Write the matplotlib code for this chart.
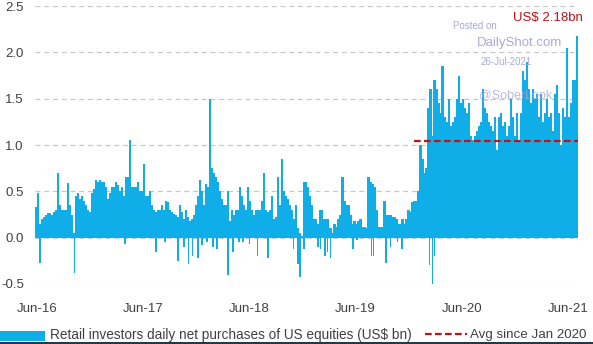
"""Retail investors daily net purchases of US equities, Jun-16 to Jul-21."""

import matplotlib
matplotlib.use("Agg")
import matplotlib.dates as mdates
import matplotlib.pyplot as plt
import numpy as np
import pandas as pd
from matplotlib.lines import Line2D
from matplotlib.patches import Rectangle

# weekly net purchases (US$ bn), Jun-2016 .. Jul-2021
net_buy_2016_17 = [0.33, 0.48, 0.15, 0.2, 0.22, 0.25, 0.27, 0.27, 0.25, 0.28, 0.3, 0.7,
                   0.35, 0.3, 0.3, 0.3, 0.59, 0.35, 0.25, 0.05, 0.45, 0.48, 0.42, 0.45,
                   0.4, 0.35, 0.3, 0.28, 0.48, 0.52, 0.62, 0.6, 0.62, 0.6, 0.6, 0.55,
                   0.42, 0.48, 0.55, 0.55, 0.6, 0.57, 0.5, 0.55, 0.45, 0.65]
net_buy_2017_18 = [0.65, 1.05, 0.55, 0.55, 0.55, 0.6, 0.5, 0.5, 0.8, 0.45, 0.45, 0.5,
                   0.35, 0.3, 0.28, 0.3, 0.3, 0.35, 0.3, 0.4, 0.38, 0.3, 0.28, 0.26,
                   0.25, 0.22, 0.35, 0.28, 0.2, 0.3, 0.22, 0.18, 0.2, 0.25, 0.35, 0.45,
                   0.62, 0.5, 0.35, 0.58, 0.55, 1.5, 0.75, 0.7, 0.65, 0.6]
net_buy_2018_19 = [0.5, 0.42, 0.35, 0.35, 0.5, 0.18, 0.3, 0.25, 0.3, 0.3, 0.55, 0.45,
                   0.35, 0.3, 0.55, 0.4, 0.3, 0.25, 0.3, 0.3, 0.3, 0.4, 0.7, 0.3,
                   0.28, 0.3, 0.45, 0.2, 0.22, 0.65, 0.35, 0.85, 0.5, 0.45, 0.42, 0.35,
                   0.3, 0.2, 0.35, 0.1, 0.05, 0.02, 0.6, 0.6, 0.55]
net_buy_2019_20 = [0.45, 0.35, 0.2, 0.2, 0.15, 0.3, 0.3, 0.2, 0.2, 0.2, 0.1, 0.05,
                   0.15, 0.12, 0.2, 0.25, 0.65, 0.4, 0.35, 0.35, 0.25, 0.15, 0.18, 0.15,
                   0.18, 0.2, 0.12, 0.12, 0.1, 0.65, 0.6, 0.58, 0.55, 0.3, 0.12, 0.12,
                   0.12, 0.4, 0.25, 0.25, 0.25, 0.22, 0.22, 0.2, 0.15]
net_buy_2020_21 = [0.15, 0.2, 0.15, 0.2, 0.3, 0.28, 0.38, 0.4, 0.4, 0.5, 1.0, 0.85,
                   0.7, 0.75, 1.4, 1.6, 1.1, 1.7, 1.6, 1.45, 1.35, 1.85, 1.3, 1.25,
                   1.5, 1.2, 1.25, 1.3, 1.5, 1.75, 1.45, 1.5, 1.4, 1.35, 1.45, 1.1,
                   1.05, 1.1, 1.15, 1.2, 1.25, 1.6, 1.4, 1.35, 1.25, 1.2, 1.15, 1.3,
                   0.95, 1.3, 1.35, 1.2, 1.25, 1.1, 1.2, 1.5, 1.3, 1.1, 1.35, 1.05,
                   1.35, 1.8, 1.7, 1.9, 1.6, 1.45, 1.6, 1.5, 1.55, 1.3, 1.55, 1.25,
                   1.35, 1.5, 1.3, 1.35, 1.15, 1.55, 1.65, 1.35, 1.0, 1.4, 1.3, 2.05,
                   1.3, 1.45, 1.7, 1.7, 2.18]

# days with net selling
sell_dates = ["2016-06-24", "2016-10-21", "2017-04-12", "2017-07-28", "2017-08-28",
              "2017-10-12", "2017-11-01", "2017-11-17", "2017-12-01", "2017-12-20",
              "2018-01-02", "2018-01-19", "2018-02-09", "2018-02-23", "2018-04-02",
              "2018-04-19", "2018-05-10", "2018-05-24", "2018-06-15", "2018-07-13",
              "2018-08-17", "2018-11-14", "2018-11-28", "2018-12-07", "2018-12-21",
              "2019-02-05", "2019-02-15", "2019-03-01", "2019-03-11", "2019-03-21",
              "2019-06-07", "2019-06-21", "2019-08-09", "2019-08-16", "2019-09-27",
              "2019-10-14", "2019-11-07", "2019-11-22", "2020-02-25", "2020-03-06",
              "2020-03-13"]
sell_values = [-0.27, -0.38, -0.07, -0.15, -0.05, -0.25, -0.1, -0.28, -0.2, -0.22,
               -0.08, -0.05, -0.1, -0.12, -0.4, -0.15, -0.05, -0.05, -0.07, -0.2,
               -0.22, -0.12, -0.28, -0.42, -0.12, -0.1, -0.12, -0.2, -0.15, -0.22,
               -0.12, -0.03, -0.2, -0.2, -0.27, -0.1, -0.05, -0.12, -0.3, -0.5,
               -0.2]

avg_since_jan2020 = 1.04
last_value_label = "US\\$ 2.18bn"

net_buy = net_buy_2016_17 + net_buy_2017_18 + net_buy_2018_19 + net_buy_2019_20 + net_buy_2020_21
dates = pd.date_range("2016-06-10", "2021-07-16", periods=len(net_buy))
sell_dt = pd.to_datetime(sell_dates)

BLUE = "#0FAEE9"
RED = "#C0121B"
GREY = "#404040"
W, H = 593, 344

plt.rcParams["font.family"] = ["Liberation Sans", "DejaVu Sans"]

fig = plt.figure(figsize=(W / 100, H / 100), dpi=100)
ax = fig.add_axes([35 / W, 1 - 284 / H, (578 - 35) / W, (284 - 6) / H])

ax.bar(dates, net_buy, width=7.6, color=BLUE, linewidth=0, antialiased=False, zorder=2)
ax.bar(sell_dt, sell_values, width=6.0, color=BLUE, linewidth=0, antialiased=False, zorder=2)
ax.plot([pd.Timestamp("2020-01-01"), dates[-1] + pd.Timedelta(days=3)],
        [avg_since_jan2020, avg_since_jan2020],
        color=RED, lw=1.6, dashes=(3, 1.5), zorder=4)

ax.set_ylim(-0.5, 2.5)
ax.set_xlim(pd.Timestamp("2016-06-07"), pd.Timestamp("2021-07-20"))
ax.set_yticks(np.arange(-0.5, 2.51, 0.5))
ax.yaxis.set_major_formatter(plt.FuncFormatter(lambda v, _: f"{v:.1f}"))
ax.xaxis.set_major_locator(mdates.MonthLocator(bymonth=6, bymonthday=15))
ax.xaxis.set_major_formatter(mdates.DateFormatter("%b-%y"))
ax.tick_params(length=0, labelsize=9.5, colors=GREY)
ax.tick_params(axis="y", pad=8)
ax.tick_params(axis="x", pad=14)
ax.grid(axis="y", color="#c8c8c8", linestyle=(0, (4, 3)), linewidth=0.9, zorder=0)
for s in ax.spines.values():
    s.set_visible(False)

# last value callout and watermark
fig.text(548 / W, 1 - 18 / H, last_value_label, color=RED, fontsize=9.5,
         ha="center", va="center")
wm = "#A9A9D6"
fig.text(475 / W, 1 - 26 / H, "Posted on", color=wm, fontsize=7, ha="center", va="center", zorder=5)
fig.text(519 / W, 1 - 43 / H, "DailyShot.com", color=wm, fontsize=9.5, ha="center", va="center", zorder=5)
fig.text(506 / W, 1 - 62 / H, "26-Jul-2021", color=wm, fontsize=7, ha="center", va="center", zorder=5)
fig.text(516 / W, 1 - 95 / H, "@SoberLook", color=wm, fontsize=9, ha="center", va="center",
         alpha=0.8, zorder=5)

# legend along the bottom edge
fig.patches.append(Rectangle((0, 1 - 341 / H), 45 / W, 10 / H, transform=fig.transFigure,
                             color=BLUE, lw=0))
fig.text(50 / W, 1 - 335 / H, "Retail investors daily net purchases of US equities (US\\$ bn)",
         color=GREY, fontsize=9.8, ha="left", va="center")
fig.lines.append(Line2D([425 / W, 467 / W], [1 - 334 / H, 1 - 334 / H], transform=fig.transFigure,
                        color=RED, lw=1.6, dashes=(3, 1.5)))
fig.text(470 / W, 1 - 335 / H, "Avg since Jan 2020", color=GREY, fontsize=9.6,
         ha="left", va="center")
fig.patches.append(Rectangle((0, 0), 1, 2 / H, transform=fig.transFigure, color="#23394A", lw=0))

fig.savefig("out.png", dpi=100)
